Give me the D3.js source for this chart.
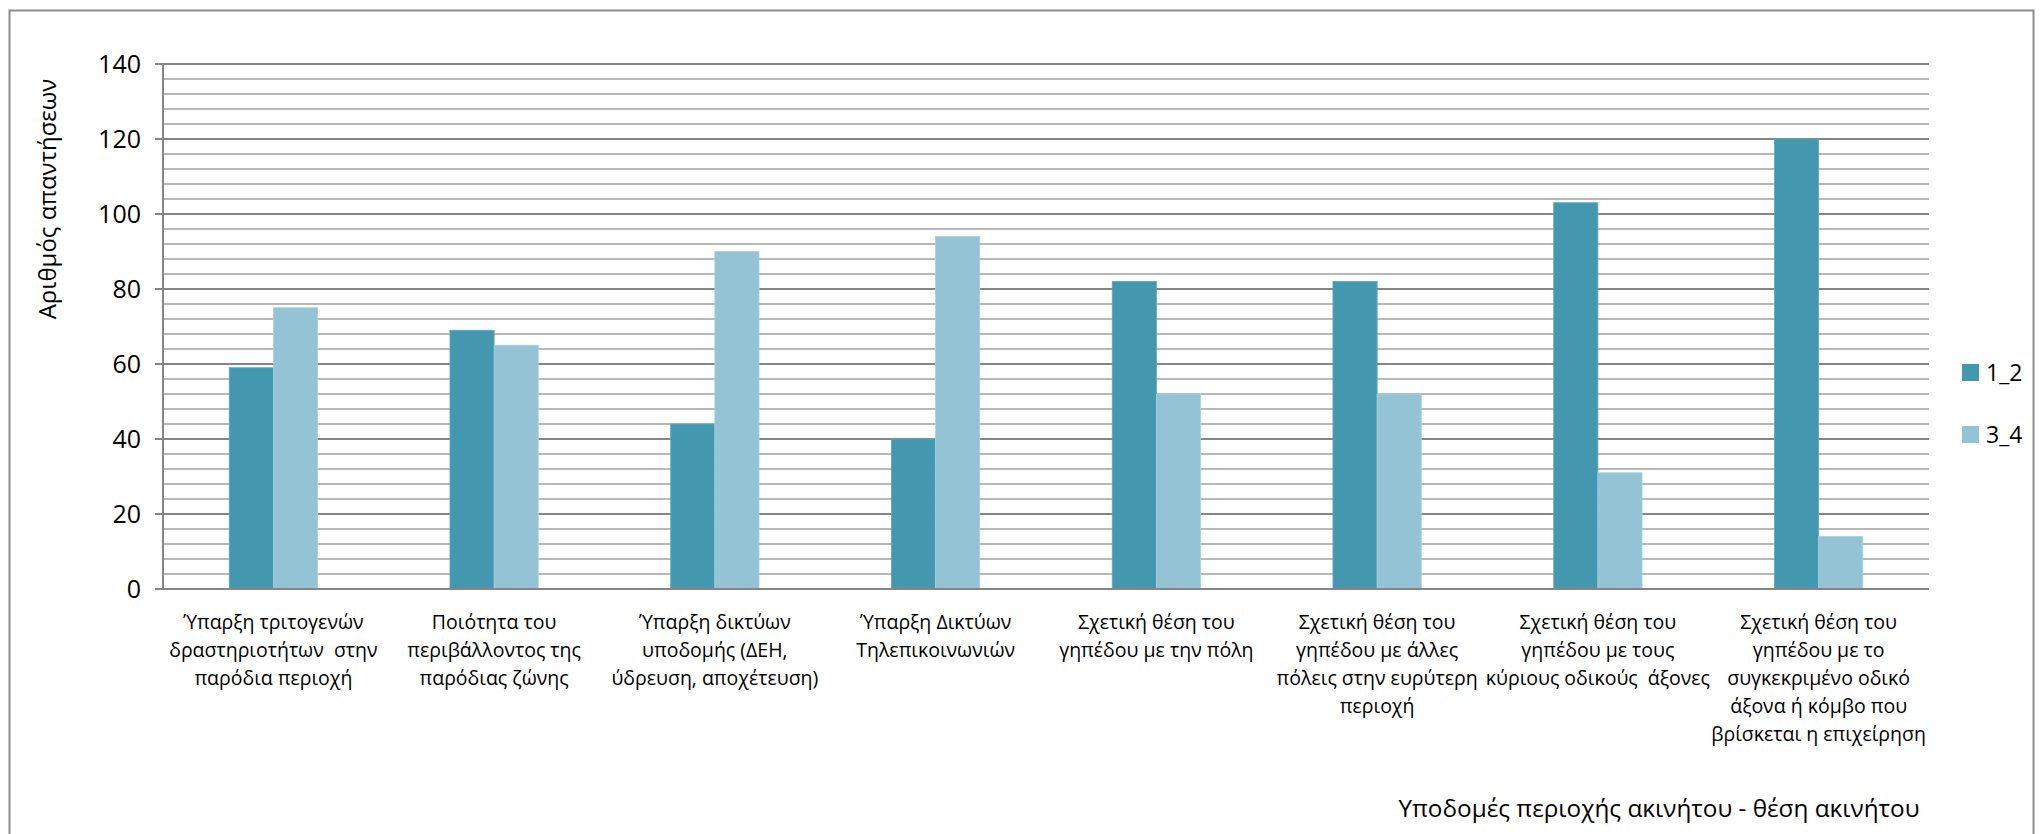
<!DOCTYPE html>
<html>
<head>
<meta charset="utf-8">
<script src="https://cdn.jsdelivr.net/npm/d3@7"></script>
<style>
  html, body { margin: 0; padding: 0; background: #fff; }
  svg { display: block; }
  text { font-family: "Open Sans", sans-serif; fill: #000; }
</style>
</head>
<body>
<svg id="chart" width="2040" height="834"></svg>
<script>
const categories = [
  ["Ύπαρξη τριτογενών", "δραστηριοτήτων  στην", "παρόδια περιοχή"],
  ["Ποιότητα του", "περιβάλλοντος της", "παρόδιας ζώνης"],
  ["Ύπαρξη δικτύων", "υποδομής (ΔΕΗ,", "ύδρευση, αποχέτευση)"],
  ["Ύπαρξη Δικτύων", "Τηλεπικοινωνιών"],
  ["Σχετική θέση του", "γηπέδου με την πόλη"],
  ["Σχετική θέση του", "γηπέδου με άλλες", "πόλεις στην ευρύτερη", "περιοχή"],
  ["Σχετική θέση του", "γηπέδου με τους", "κύριους οδικούς  άξονες"],
  ["Σχετική θέση του", "γηπέδου με το", "συγκεκριμένο οδικό", "άξονα ή κόμβο που", "βρίσκεται η επιχείρηση"]
];
const seriesNames = ["1_2", "3_4"];
const values12 = [59, 69, 44, 40, 82, 82, 103, 120];
const values34 = [75, 65, 90, 94, 52, 52, 31, 14];
const yTicks = [0, 20, 40, 60, 80, 100, 120, 140];
const yTitle = "Αριθμός απαντήσεων";
const xTitle = "Υποδομές περιοχής ακινήτου - θέση ακινήτου";
const colors = ["#4398b0", "#93c3d5"];

const svg = d3.select("#chart");
const L = 163, R = 1929, T = 64, B = 589;

// outer frame
svg.append("rect").attr("x", 9.5).attr("y", 10.5).attr("width", 2024).attr("height", 900)
  .attr("fill", "none").attr("stroke", "#8c8c8c").attr("stroke-width", 2);

const idx = d3.range(categories.length);
const x = d3.scaleBand().domain(idx).range([L, R]).paddingInner(0.6).paddingOuter(0.3);
const xs = d3.scaleBand().domain(seriesNames).range([0, x.bandwidth()]);
const y = d3.scaleLinear().domain([0, 140]).range([B, T]);

// minor gridlines
const minor = d3.range(4, 140, 4).filter(v => v % 20 !== 0);
svg.append("g").selectAll("line").data(minor).join("line")
  .attr("x1", L).attr("x2", R).attr("y1", d => y(d)).attr("y2", d => y(d))
  .attr("stroke", "#b8b8b8").attr("stroke-width", 1.8);
// major gridlines
svg.append("g").selectAll("line").data(yTicks.filter(v => v > 0)).join("line")
  .attr("x1", L - 8).attr("x2", R).attr("y1", d => y(d)).attr("y2", d => y(d))
  .attr("stroke", "#858585").attr("stroke-width", 2);

// bars
const data = [values12, values34];
const g = svg.append("g");
data.forEach((vals, si) => {
  g.selectAll(".s" + si).data(vals).join("rect")
    .attr("x", (d, i) => x(i) + xs(seriesNames[si]))
    .attr("width", xs.bandwidth())
    .attr("y", d => y(d))
    .attr("height", d => y(0) - y(d))
    .attr("fill", colors[si])
    .attr("stroke", si === 0 ? "#5aa7bd" : "#a9d0de")
    .attr("stroke-width", 0.8);
});

// axes lines
svg.append("line").attr("x1", L).attr("x2", L).attr("y1", T).attr("y2", B)
  .attr("stroke", "#858585").attr("stroke-width", 2);
svg.append("line").attr("x1", L - 8).attr("x2", R).attr("y1", B).attr("y2", B)
  .attr("stroke", "#858585").attr("stroke-width", 2.2);

// y tick labels
svg.append("g").selectAll("text").data(yTicks).join("text")
  .attr("x", 141).attr("y", d => y(d)).attr("dy", "0.36em")
  .attr("text-anchor", "end").attr("font-size", 25).text(d => d);

// y title
svg.append("text").attr("transform", "translate(56,199) rotate(-90)")
  .attr("text-anchor", "middle").attr("font-size", 24).text(yTitle);

// category labels
const cl = svg.append("g");
categories.forEach((lines, i) => {
  const t = cl.append("text").attr("text-anchor", "middle").attr("font-size", 19.5)
    .attr("x", x(i) + x.bandwidth() / 2).attr("y", 629);
  lines.forEach((ln, k) => {
    t.append("tspan").attr("x", x(i) + x.bandwidth() / 2).attr("y", 629 + k * 28)
      .attr("xml:space", "preserve").style("white-space", "pre").text(ln);
  });
});

// x title
svg.append("text").attr("x", 1659).attr("y", 817).attr("text-anchor", "middle")
  .attr("font-size", 24.3).text(xTitle);

// legend
const lg = svg.append("g");
seriesNames.forEach((s, i) => {
  const yy = 364 + i * 62;
  lg.append("rect").attr("x", 1962).attr("y", yy).attr("width", 17).attr("height", 17).attr("fill", colors[i]);
  lg.append("text").attr("x", 1986).attr("y", yy + 17).attr("font-size", 23).text(s);
});
</script>
</body>
</html>
